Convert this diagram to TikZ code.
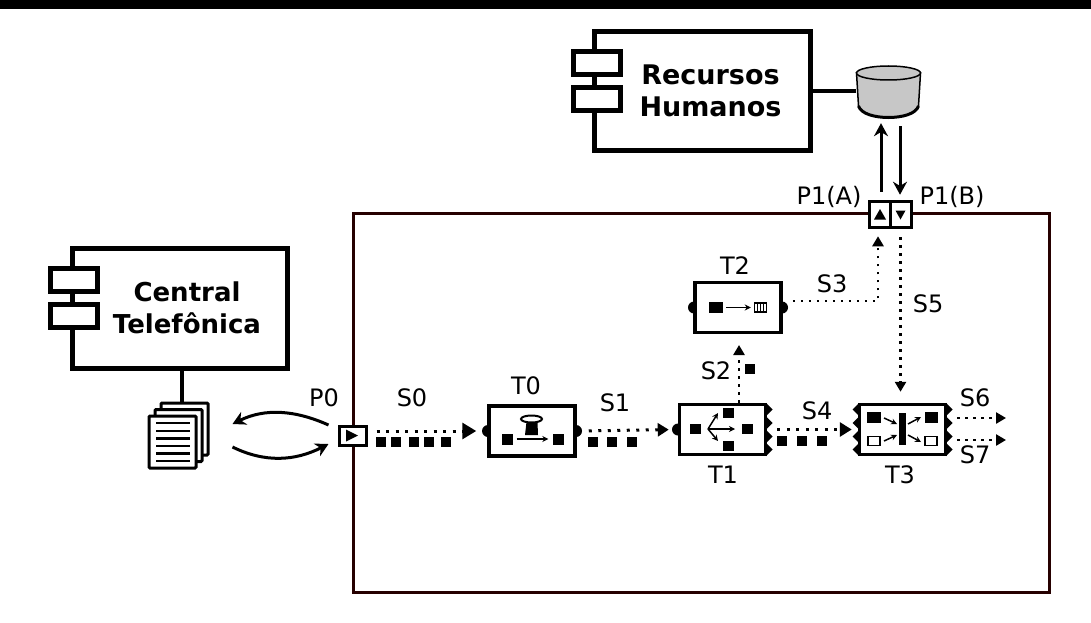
\documentclass[tikz,border=0pt]{standalone}
\usepackage{fontspec}
\setmainfont{DejaVu Sans}
\usetikzlibrary{arrows.meta}

\begin{document}
\begin{tikzpicture}[x=1pt,y=-1pt,
  lb/.style={inner sep=0pt,font=\fontsize{24}{28}\selectfont},
  sysbox/.style={draw,line width=5pt,fill=white,align=center,inner sep=0pt,font=\fontsize{26}{32}\selectfont\bfseries},
  tab/.style={draw,line width=5pt,fill=white,minimum width=47pt,minimum height=23pt,inner sep=0pt},
  task/.style={draw,line width=3.5pt,fill=white,minimum width=86pt,minimum height=50pt,inner sep=0pt},
  port/.style={draw,line width=3pt,fill=white,inner sep=0pt},
  page/.style={draw,line width=3pt,fill=white,rounded corners=1pt,minimum width=47pt,minimum height=52pt,inner sep=0pt},
  knob/.style={circle,fill=black,minimum size=12pt,inner sep=0pt},
  sq/.style={fill=black,minimum width=11pt,minimum height=11pt,inner sep=0pt},
  osq/.style={draw,line width=1.6pt,fill=white,minimum width=12pt,minimum height=9pt,inner sep=0pt},
  flow/.style={line width=3pt,dash pattern=on 3pt off 6.5pt,-{Triangle[length=14pt,width=16pt]}},
  thin flow/.style={line width=2.5pt,dash pattern=on 2.5pt off 5.5pt,-{Triangle[length=10pt,width=11pt]}},
  link/.style={line width=4pt},
  call/.style={line width=3pt,-{Stealth[length=13pt,width=14pt]}},
  mini/.style={line width=1.5pt,-{Stealth[length=6pt,width=6pt]}}]
 \useasboundingbox (0,0) rectangle (1091,623);
 % top rule
 \draw[line width=9pt] (0,4.5) -- (1091,4.5);
 % process frame
 \node[draw=black!85!red,line width=3pt,minimum width=696pt,minimum height=379pt,inner sep=0pt] (frame) at (701.5,403) {};

 % external systems
 \node[sysbox,minimum width=216pt,minimum height=119.5pt,font=\fontsize{27}{32}\selectfont\bfseries] (rh) at (702.5,91) {\hspace*{16pt}Recursos\\\hspace*{16pt}Humanos};
 \node[tab] (rh1) at (597,63) {};
 \node[tab] (rh2) at (597,99) {};
 \node[sysbox,minimum width=215pt,minimum height=119.5pt] (ct) at (180,308.25) {\hspace*{14pt}Central\\\hspace*{14pt}Telefônica};
 \node[tab] (ct1) at (73.5,280) {};
 \node[tab] (ct2) at (73.5,316) {};

 % database
 \node[minimum width=65pt,minimum height=45pt,inner sep=0pt] (bd) at (888.5,95.5) {};
 \filldraw[fill=black!22,line width=1.5pt] (856.5,73) -- (858.5,106) .. controls (861,114) and (875,117.5) .. (888.5,117.5) .. controls (902,117.5) and (916,114) .. (918.5,106) -- (920.5,73) -- cycle;
 \draw[line width=3pt] (858.5,106) .. controls (861,114) and (875,117.5) .. (888.5,117.5) .. controls (902,117.5) and (916,114) .. (918.5,106);
 \filldraw[fill=black!22,line width=1.5pt] (888.5,73) ellipse (32pt and 7pt);
 \draw[link] (rh.east) -- (rh.east -| bd.west);

 % document stack
 \node[page] (doc3) at (184.5,429) {};
 \node[page] (doc2) at (178.5,435.5) {};
 \node[page] (doc) at (172.5,442) {};
 \foreach \y in {423,431,438.5,446,453.5,461}
   \draw[line width=2.5pt] (156,\y) -- (190,\y);
 \coordinate (ctl) at (182,380);
 \draw[link] (ct.south -| ctl) -- (doc3.north -| ctl);

 % ports
 \node[port,minimum width=27pt,minimum height=19pt] (p0) at (352.5,435.5) {};
 \fill (346,429.5) -- (358,435.5) -- (346,441.5) -- cycle;
 \node[port,minimum width=21pt,minimum height=26.5pt] (p1a) at (879.5,214.5) {};
 \node[port,minimum width=21pt,minimum height=26.5pt] (p1b) at (900.5,214.5) {};
 \fill (874,219.5) -- (880,209) -- (886,219.5) -- cycle;
 \fill (895.5,210.5) -- (905.5,210.5) -- (900.5,219.5) -- cycle;
 \node[lb] (lp0) at (324,398) {P0};
 \node[lb] (lp1a) at (829,197) {P1(A)};
 \node[lb] (lp1b) at (952,197) {P1(B)};

 % calls on the ports
 \coordinate (up) at (881,160);
 \coordinate (dn) at (900,160);
 \draw[call] ([shift={(-9,-10.5)}]p0.west) .. controls (295,410) and (265,408) .. ([shift={(35,-18)}]doc.east);
 \draw[call] ([shift={(35,5)}]doc.east) .. controls (265,463) and (295,461) .. ([shift={(-9,8.5)}]p0.west);
 \draw[call,shorten <=8pt,shorten >=5pt] (up |- p1a.north) -- (up |- bd.south);
 \draw[call,shorten <=8pt,shorten >=5pt] (dn |- bd.south) -- (dn |- p1b.north);

 % tasks
 \foreach \n/\x/\y in {t0l/488/431,t0r/576/431,t1l/678/429.5,t2l/694/307.5,t2r/782/307.5}
   \node[knob] (\n) at (\x,\y) {};
 % teeth on the correlators
 \foreach \x/\d in {766/6.5,946/6.5,859/-6.5} {
   \foreach \y in {403,416.5,430,443}
     \fill (\x,\y) -- (\x+\d,\y+6.5) -- (\x,\y+13) -- cycle;
 }
 \foreach \n/\x/\y in {t0/532/431,t1/722.5/429.5,t2/738/307.5,t3/902.5/429.5}
   \node[task] (\n) at (\x,\y) {};
 \node[lb] (lt0) at (526,386) {T0};
 \node[lb] (lt1) at (723,475) {T1};
 \node[lb] (lt2) at (735,266) {T2};
 \node[lb] (lt3) at (900,475) {T3};

 % T0 glyph
 \node[sq] (a0) at (507,439) {};
 \node[sq] (a1) at (558,439) {};
 \draw[mini] ([xshift=4pt]a0.east) -- ([xshift=-4pt]a1.west);
 \fill (526.5,422) -- (537.5,422) -- (538,435) -- (525,435) -- cycle;
 \draw[line width=2pt,fill=white] (531.5,419) ellipse (10.5pt and 3.5pt);

 % T1 glyph
 \foreach \i/\x/\y in {1/695/429,2/728/413,3/747/429,4/728.5/446}
   \node[sq,minimum height=10pt] (b\i) at (\x,\y) {};
 \draw[mini] (708,429) -- (735,429);
 \draw[mini] (708,429) -- (718,413);
 \draw[mini] (708,429) -- (718,441);

 % T2 glyph
 \node[sq,minimum width=14pt] (c0) at (716,307.5) {};
 \node[draw,line width=1.5pt,minimum width=12pt,minimum height=9pt,inner sep=0pt] (c1) at (760.5,307.5) {};
 \foreach \x in {757.5,760.5,763.5}
   \draw[line width=1.5pt] (\x,303) -- (\x,312);
 \draw[mini] ([xshift=3pt]c0.east) -- ([xshift=-3pt]c1.west);

 % T3 glyph
 \node[sq,minimum width=7pt,minimum height=32pt] (d0) at (902.5,429) {};
 \node[sq,minimum width=14pt,minimum height=11pt] (d1) at (874,417) {};
 \node[sq,minimum width=13pt,minimum height=11pt] (d2) at (931,417) {};
 \node[osq] (d3) at (874,441) {};
 \node[osq] (d4) at (931,441) {};
 \draw[mini] (884,418) -- (897,424);
 \draw[mini] (884,441) -- (897,435);
 \draw[mini] (908,424) -- (921,417);
 \draw[mini] (908,435) -- (921,442);

 % streams
 \coordinate (s2) at (739,345);
 \coordinate (s3) at (878,301);
 \coordinate (s6) at (1006,418);
 \coordinate (s7) at (1006,440);
 \draw[flow,shorten <=9pt,shorten >=11pt] (p0.east |- t0.west) -- (t0.west);
 \draw[flow,shorten <=12pt,shorten >=9pt,-{Triangle[length=11pt,width=13pt]}] (t0.east) -- (t1.west);
 \draw[thin flow] (t1.north -| s2) -- (s2);
 \draw[thin flow,shorten <=10pt,shorten >=7pt] (s3 -| t2.east) -- (s3) -- (s3 |- p1a.south);
 \draw[flow,shorten <=10pt,shorten >=6pt,-{Triangle[length=12pt,width=14pt]}] (t1.east) -- (t3.west);
 \draw[thin flow,shorten <=8pt,shorten >=11pt] (p1b.south) -- (p1b.south |- t3.north);
 \draw[thin flow,shorten <=10pt] (s6 -| t3.east) -- (s6);
 \draw[thin flow,shorten <=10pt] (s7 -| t3.east) -- (s7);
 \foreach \n/\x/\y in {S0/412/398,S1/615/403,S2/716/371,S3/832/284,S4/817/411,S5/928/304,S6/975/398,S7/975/455}
   \node[lb] (l\n) at (\x,\y) {\n};

 % items on the streams
 \foreach \i/\x/\y in {1/381/442,2/396/442,3/414/442,4/429/442,5/446/442,6/593/442,7/612/442,8/632/442,9/782/441,10/802/441,11/822/441,12/750/369}
   \node[sq,minimum width=10.5pt,minimum height=10pt] (m\i) at (\x,\y) {};
\end{tikzpicture}
\end{document}
